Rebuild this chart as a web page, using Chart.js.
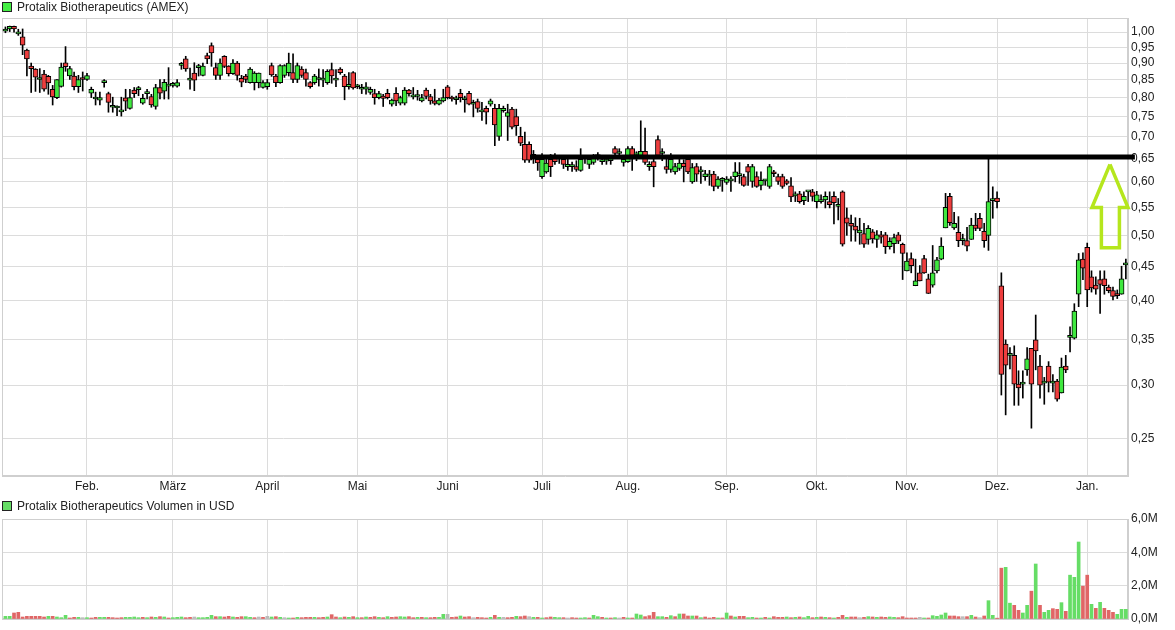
<!DOCTYPE html>
<html><head><meta charset="utf-8">
<script src="https://cdn.jsdelivr.net/npm/chart.js@4.4.0/dist/chart.umd.min.js"></script>
<style>
html,body{margin:0;padding:0;background:#fff;}
#wrap{position:relative;width:1175px;height:630px;overflow:hidden;}
canvas{position:absolute;left:0;}
#c1{top:0;}
#c2{top:495px;}
.lg{position:absolute;left:2px;height:14px;line-height:14px;font:12px "Liberation Sans",Arial,sans-serif;color:#222;white-space:nowrap;}
.lg i{position:absolute;left:0;top:2px;width:8px;height:8px;border:1px solid #222;}
.lg span{margin-left:15px;}
</style></head><body>
<div id="wrap">
<canvas id="c1" width="1175" height="495"></canvas>
<canvas id="c2" width="1175" height="135"></canvas>
<div class="lg" style="top:0px"><i style="background:#44ee44"></i><span>Protalix Biotherapeutics (AMEX)</span></div>
<div class="lg" style="top:499px"><i style="background:#66dd66"></i><span>Protalix Biotherapeutics Volumen in USD</span></div>
</div>
<script>
// ---- data (trading days from Jan 4 2016, index 0) ----
const opens = [
1.003,1.011,1.020,0.994,0.984,0.941,0.891,0.882,0.851,0.867,
0.860,0.823,0.800,0.831,0.901,0.861,0.861,0.830,0.856,0.851,
0.812,0.796,0.793,0.842,0.811,0.774,0.772,0.762,0.799,0.771,
0.821,0.822,0.785,0.811,0.803,0.776,0.828,0.818,0.832,0.834,
0.832,0.893,0.913,0.849,0.870,0.886,0.863,0.923,0.955,0.886,
0.863,0.921,0.891,0.868,0.900,0.854,0.861,0.842,0.842,0.842,
0.828,0.830,0.892,0.861,0.842,0.863,0.871,0.871,0.851,0.882,
0.871,0.842,0.842,0.851,0.849,0.842,0.880,0.849,0.882,0.861,
0.830,0.871,0.830,0.823,0.823,0.814,0.811,0.800,0.804,0.812,
0.782,0.812,0.785,0.785,0.821,0.802,0.803,0.791,0.821,0.803,
0.791,0.782,0.791,0.830,0.800,0.794,0.812,0.794,0.812,0.782,
0.789,0.762,0.771,0.782,0.771,0.701,0.765,0.750,0.769,0.750,
0.701,0.682,0.682,0.659,0.648,0.611,0.621,0.648,0.650,0.650,
0.648,0.632,0.632,0.632,0.624,0.650,0.637,0.641,0.654,0.643,
0.644,0.645,0.672,0.661,0.641,0.643,0.672,0.658,0.657,0.666,
0.632,0.643,0.693,0.661,0.632,0.626,0.621,0.628,0.639,0.648,
0.600,0.632,0.621,0.611,0.612,0.616,0.591,0.603,0.599,0.602,
0.611,0.613,0.611,0.632,0.601,0.611,0.593,0.602,0.591,0.621,
0.611,0.611,0.602,0.592,0.572,0.576,0.563,0.580,0.580,0.561,
0.561,0.564,0.561,0.571,0.552,0.580,0.531,0.521,0.516,0.504,
0.503,0.493,0.506,0.493,0.501,0.501,0.481,0.486,0.501,0.485,
0.443,0.462,0.421,0.440,0.462,0.431,0.422,0.443,0.461,0.513,
0.571,0.513,0.505,0.491,0.491,0.493,0.518,0.530,0.507,0.500,
0.563,0.568,0.421,0.345,0.332,0.332,0.301,0.301,0.316,0.340,
0.350,0.320,0.302,0.320,0.302,0.304,0.292,0.320,0.353,0.352,
0.409,0.461,0.480,0.434,0.422,0.430,0.431,0.419,0.414,0.410,0.409,0.452];
const highs = [
1.018,1.021,1.021,1.010,1.011,0.944,0.900,0.883,0.883,0.878,
0.863,0.834,0.851,0.900,0.952,0.890,0.873,0.863,0.873,0.869,
0.829,0.815,0.815,0.851,0.815,0.801,0.778,0.801,0.823,0.823,
0.828,0.831,0.809,0.823,0.809,0.837,0.851,0.851,0.886,0.843,
0.851,0.902,0.921,0.885,0.901,0.896,0.900,0.931,0.964,0.900,
0.913,0.923,0.892,0.911,0.905,0.863,0.866,0.886,0.874,0.870,
0.848,0.851,0.900,0.866,0.895,0.895,0.931,0.929,0.900,0.889,
0.882,0.845,0.866,0.882,0.880,0.880,0.900,0.880,0.886,0.866,
0.871,0.874,0.837,0.837,0.842,0.829,0.823,0.817,0.809,0.823,
0.796,0.828,0.804,0.828,0.823,0.828,0.820,0.809,0.826,0.809,
0.823,0.798,0.823,0.834,0.804,0.804,0.823,0.804,0.817,0.793,
0.796,0.787,0.777,0.796,0.782,0.782,0.777,0.782,0.774,0.769,
0.723,0.711,0.688,0.668,0.656,0.661,0.650,0.659,0.661,0.657,
0.654,0.650,0.642,0.645,0.672,0.657,0.654,0.659,0.663,0.654,
0.656,0.654,0.677,0.672,0.654,0.677,0.677,0.665,0.739,0.721,
0.643,0.650,0.702,0.672,0.650,0.661,0.639,0.650,0.647,0.654,
0.639,0.639,0.632,0.624,0.624,0.622,0.611,0.609,0.611,0.611,
0.641,0.641,0.616,0.637,0.637,0.621,0.621,0.605,0.637,0.624,
0.616,0.616,0.605,0.609,0.580,0.581,0.580,0.581,0.585,0.581,
0.574,0.580,0.580,0.580,0.567,0.582,0.549,0.536,0.531,0.530,
0.521,0.517,0.510,0.508,0.507,0.505,0.496,0.502,0.505,0.487,
0.471,0.471,0.461,0.451,0.467,0.438,0.483,0.464,0.496,0.577,
0.577,0.541,0.533,0.502,0.514,0.530,0.539,0.539,0.521,0.650,
0.590,0.580,0.440,0.350,0.341,0.343,0.315,0.315,0.341,0.340,
0.381,0.332,0.308,0.325,0.311,0.306,0.329,0.332,0.366,0.396,
0.470,0.471,0.487,0.443,0.434,0.443,0.443,0.422,0.419,0.415,0.450,0.461];
const lows = [
0.998,1.002,1.000,0.989,0.926,0.861,0.814,0.817,0.814,0.818,
0.809,0.780,0.797,0.829,0.875,0.851,0.821,0.814,0.818,0.848,
0.800,0.780,0.780,0.829,0.761,0.761,0.752,0.751,0.765,0.769,
0.800,0.805,0.782,0.796,0.774,0.769,0.796,0.796,0.796,0.829,
0.829,0.881,0.875,0.823,0.819,0.861,0.861,0.898,0.890,0.851,
0.851,0.886,0.861,0.866,0.849,0.830,0.842,0.840,0.821,0.827,
0.826,0.823,0.860,0.830,0.840,0.857,0.861,0.842,0.842,0.857,
0.832,0.826,0.837,0.832,0.830,0.837,0.840,0.830,0.866,0.794,
0.823,0.823,0.825,0.811,0.809,0.809,0.782,0.796,0.776,0.796,
0.777,0.778,0.780,0.780,0.804,0.796,0.793,0.788,0.796,0.782,
0.780,0.780,0.788,0.796,0.790,0.782,0.788,0.761,0.780,0.749,
0.761,0.740,0.731,0.777,0.679,0.691,0.761,0.691,0.719,0.703,
0.679,0.641,0.641,0.639,0.624,0.607,0.618,0.611,0.637,0.639,
0.628,0.624,0.622,0.622,0.622,0.639,0.628,0.637,0.646,0.637,
0.637,0.637,0.654,0.650,0.633,0.641,0.624,0.645,0.650,0.637,
0.624,0.590,0.654,0.645,0.618,0.620,0.616,0.624,0.600,0.617,
0.597,0.601,0.597,0.603,0.593,0.582,0.587,0.581,0.595,0.581,
0.600,0.597,0.591,0.593,0.589,0.589,0.584,0.593,0.587,0.611,
0.595,0.587,0.594,0.561,0.561,0.558,0.555,0.561,0.562,0.549,
0.558,0.549,0.549,0.520,0.527,0.482,0.500,0.490,0.490,0.485,
0.480,0.485,0.487,0.480,0.487,0.470,0.477,0.471,0.486,0.430,
0.443,0.440,0.421,0.428,0.439,0.410,0.419,0.440,0.460,0.513,
0.517,0.510,0.481,0.484,0.474,0.493,0.508,0.508,0.480,0.475,
0.530,0.549,0.290,0.271,0.317,0.280,0.280,0.287,0.310,0.259,
0.316,0.287,0.281,0.293,0.293,0.284,0.292,0.313,0.336,0.351,
0.392,0.430,0.392,0.412,0.409,0.383,0.409,0.411,0.401,0.403,0.409,0.431];
const closes = [
1.011,1.020,1.011,1.001,0.957,0.913,0.883,0.858,0.851,0.823,
0.841,0.802,0.851,0.888,0.889,0.883,0.830,0.851,0.851,0.862,
0.823,0.796,0.800,0.842,0.787,0.774,0.772,0.762,0.790,0.800,
0.811,0.828,0.798,0.811,0.780,0.828,0.812,0.843,0.832,0.834,
0.842,0.893,0.882,0.849,0.849,0.886,0.891,0.913,0.932,0.863,
0.900,0.890,0.868,0.900,0.863,0.843,0.851,0.882,0.870,0.870,
0.842,0.842,0.864,0.842,0.892,0.892,0.900,0.851,0.892,0.863,
0.851,0.830,0.861,0.851,0.849,0.875,0.861,0.849,0.871,0.830,
0.837,0.827,0.830,0.823,0.830,0.823,0.800,0.811,0.798,0.800,
0.793,0.791,0.800,0.821,0.811,0.802,0.803,0.800,0.803,0.791,
0.784,0.793,0.800,0.800,0.796,0.794,0.800,0.794,0.782,0.782,
0.771,0.762,0.761,0.791,0.729,0.771,0.771,0.760,0.723,0.727,
0.685,0.646,0.646,0.650,0.640,0.648,0.640,0.632,0.643,0.650,
0.637,0.637,0.632,0.626,0.648,0.650,0.648,0.650,0.654,0.643,
0.648,0.645,0.661,0.661,0.648,0.672,0.657,0.658,0.666,0.641,
0.637,0.632,0.657,0.661,0.626,0.648,0.632,0.640,0.632,0.621,
0.630,0.616,0.621,0.617,0.612,0.591,0.606,0.603,0.606,0.602,
0.621,0.613,0.593,0.620,0.632,0.591,0.603,0.602,0.632,0.617,
0.601,0.591,0.597,0.570,0.572,0.561,0.571,0.580,0.571,0.574,
0.564,0.571,0.555,0.559,0.552,0.485,0.521,0.516,0.509,0.509,
0.485,0.512,0.494,0.501,0.497,0.481,0.490,0.496,0.490,0.470,
0.458,0.451,0.428,0.428,0.440,0.410,0.440,0.460,0.482,0.550,
0.522,0.521,0.491,0.491,0.482,0.518,0.512,0.512,0.491,0.561,
0.563,0.561,0.311,0.321,0.332,0.301,0.297,0.301,0.328,0.301,
0.337,0.300,0.302,0.303,0.302,0.286,0.319,0.316,0.353,0.386,
0.460,0.447,0.415,0.418,0.416,0.423,0.421,0.414,0.406,0.407,0.431,0.452];
// volume in millions USD
const volumes = [
0.16,0.16,0.36,0.40,0.12,0.16,0.16,0.16,0.16,0.12,
0.16,0.16,0.12,0.08,0.22,0.06,0.10,0.10,0.08,0.08,
0.06,0.10,0.10,0.10,0.10,0.08,0.06,0.08,0.10,0.10,
0.12,0.08,0.10,0.08,0.12,0.10,0.14,0.12,0.06,0.08,
0.10,0.12,0.08,0.10,0.12,0.08,0.08,0.10,0.22,0.14,
0.14,0.12,0.16,0.12,0.10,0.14,0.14,0.10,0.08,0.12,
0.10,0.16,0.12,0.14,0.10,0.08,0.06,0.06,0.10,0.08,
0.10,0.10,0.10,0.08,0.10,0.12,0.26,0.12,0.08,0.12,
0.10,0.14,0.08,0.08,0.12,0.10,0.14,0.10,0.08,0.14,
0.10,0.12,0.14,0.12,0.14,0.08,0.10,0.10,0.08,0.08,
0.10,0.10,0.28,0.28,0.10,0.12,0.18,0.12,0.14,0.08,
0.10,0.08,0.06,0.10,0.22,0.10,0.10,0.08,0.10,0.16,
0.14,0.18,0.14,0.10,0.10,0.06,0.08,0.12,0.10,0.08,
0.08,0.06,0.08,0.06,0.06,0.08,0.06,0.22,0.14,0.10,
0.06,0.06,0.08,0.06,0.10,0.06,0.06,0.30,0.24,0.14,
0.20,0.40,0.14,0.14,0.10,0.20,0.14,0.30,0.30,0.18,
0.18,0.18,0.08,0.12,0.06,0.10,0.06,0.06,0.36,0.18,
0.12,0.16,0.16,0.08,0.10,0.06,0.06,0.10,0.06,0.14,
0.10,0.10,0.12,0.08,0.10,0.12,0.08,0.16,0.08,0.10,
0.12,0.10,0.08,0.06,0.10,0.22,0.10,0.12,0.12,0.08,
0.10,0.14,0.12,0.10,0.12,0.10,0.12,0.10,0.08,0.14,
0.06,0.06,0.06,0.10,0.06,0.06,0.20,0.16,0.24,0.36,
0.18,0.18,0.14,0.14,0.14,0.22,0.12,0.08,0.18,1.10,
0.22,0.05,3.05,3.10,0.95,0.82,0.52,0.36,0.82,1.67,
3.30,0.82,0.40,0.52,0.62,0.58,0.98,0.46,2.63,2.50,
4.62,1.97,2.63,0.88,0.64,1.00,0.64,0.52,0.40,0.28,0.58,0.58];
// month starts (trading-day index) and labels
const monthIdx = [19,39,61,82,103,125,145,168,189,210,231,252];
const monthLabels = ['Feb.','März','April','Mai','Juni','Juli','Aug.','Sep.','Okt.','Nov.','Dez.','Jan.'];
const priceTicks = [0.25,0.30,0.35,0.40,0.45,0.50,0.55,0.60,0.65,0.70,0.75,0.80,0.85,0.90,0.95,1.00];
const volTicks = [0,2,4,6];
// annotations (x = trading-day index, y = price)
const levelLine = [[122.2,0.653],[263.1,0.653]];
const arrowOutline = [[257.3,0.637],[261.5,0.5496],[259.5,0.5496],[259.5,0.4793],[255.3,0.4793],[255.3,0.5496],[253.1,0.5496],[257.3,0.637]];

// ---- styling ----
const FONT = '"Liberation Sans", Arial, sans-serif';
const UP = '#3fe83f', DOWN = '#ee3d3d';
const VUP = '#66dd66', VDOWN = '#e06666', VFLAT = '#bbbbbb';
const GRID = '#dcdcdc';
Chart.defaults.font.family = FONT;
Chart.defaults.font.size = 12;
Chart.defaults.color = '#222';

const N = opens.length;
const bodies = [], wicks = [], bodyColors = [], volData = [], volColors = [];
for (let i = 0; i < N; i++) {
  bodies.push({x: i, y: [opens[i], closes[i]]});
  wicks.push({x: i, y: [lows[i], highs[i]]});
  bodyColors.push(closes[i] >= opens[i] ? UP : DOWN);
  volData.push({x: i, y: volumes[i]});
  const prev = i > 0 ? closes[i - 1] : opens[i];
  volColors.push(closes[i] > prev ? VUP : (closes[i] < prev ? VDOWN : VFLAT));
}

const boxPlugin = {
  id: 'box',
  beforeDatasetsDraw(chart) {
    const a = chart.chartArea, c = chart.ctx;
    c.save();
    c.strokeStyle = '#cfcfcf';
    c.lineWidth = 1;
    c.strokeRect(Math.round(a.left) + 0.5, Math.round(a.top) + 0.5, Math.round(a.right - a.left) - 1, Math.round(a.bottom - a.top) - 1);
    c.restore();
  }
};

const xMin = -0.8, xMax = 261.5;
function xScale(showTicks, h) {
  return {
    type: 'linear', min: xMin, max: xMax, offset: false,
    afterBuildTicks: s => { s.ticks = monthIdx.map(v => ({value: v})); },
    afterFit: s => { s.height = h; },
    ticks: {display: showTicks, autoSkip: false, maxRotation: 0, padding: 3, color: '#222',
      callback: (v, i) => monthLabels[i]},
    grid: {color: GRID, drawTicks: false, offset: false},
    border: {color: '#cfcfcf'}
  };
}

new Chart(document.getElementById('c1'), {
  type: 'bar',
  data: {datasets: [
    {type: 'line', label: 'Widerstand', data: levelLine.map(p => ({x: p[0], y: p[1]})),
     borderColor: '#000', borderWidth: 5, pointRadius: 0, borderCapStyle: 'butt', order: 2,
     clip: {left: 0, top: 0, right: 10, bottom: 0}},
    {type: 'line', label: 'Pfeil', data: arrowOutline.map(p => ({x: p[0], y: p[1]})),
     borderColor: '#b5e61d', borderWidth: 3.5, pointRadius: 0, tension: 0, borderJoinStyle: 'miter', order: 1, clip: false},
    {label: 'Protalix Biotherapeutics (AMEX)', data: bodies, backgroundColor: bodyColors,
     borderColor: '#000', borderWidth: 1, borderSkipped: false, barThickness: 5, minBarLength: 2, grouped: false, order: 3},
    {label: 'Docht', data: wicks, backgroundColor: '#000', borderWidth: 0, barThickness: 1, grouped: false, order: 4}
  ]},
  options: {
    responsive: false, animation: false, events: [], devicePixelRatio: 1,
    layout: {padding: {top: 18, left: 2, right: 0, bottom: 0}},
    plugins: {legend: {display: false}, tooltip: {enabled: false}},
    scales: {
      x: xScale(true, 19),
      y: {
        type: 'logarithmic', position: 'right', min: 0.2234, max: 1.0495,
        afterBuildTicks: s => { s.ticks = priceTicks.map(v => ({value: v})); },
        afterFit: s => { s.width = 47; },
        ticks: {autoSkip: false, padding: 3, color: '#222', callback: v => Number(v).toFixed(2).replace('.', ',')},
        grid: {color: GRID, drawTicks: false},
        border: {color: '#cfcfcf'}
      }
    }
  },
  plugins: [boxPlugin]
});

new Chart(document.getElementById('c2'), {
  type: 'bar',
  data: {datasets: [
    {label: 'Protalix Biotherapeutics Volumen in USD', data: volData, backgroundColor: volColors,
     borderWidth: 0, barThickness: 3, grouped: false}
  ]},
  options: {
    responsive: false, animation: false, events: [], devicePixelRatio: 1,
    layout: {padding: {top: 24, left: 2, right: 0, bottom: 11}},
    plugins: {legend: {display: false}, tooltip: {enabled: false}},
    scales: {
      x: xScale(false, 0),
      y: {
        type: 'linear', position: 'right', min: 0, max: 6,
        afterBuildTicks: s => { s.ticks = volTicks.map(v => ({value: v})); },
        afterFit: s => { s.width = 47; },
        ticks: {autoSkip: false, padding: 3, color: '#222', callback: v => Number(v).toFixed(1).replace('.', ',') + 'M'},
        grid: {color: GRID, drawTicks: false},
        border: {color: '#cfcfcf'}
      }
    }
  },
  plugins: [boxPlugin]
});
</script>
</body></html>
